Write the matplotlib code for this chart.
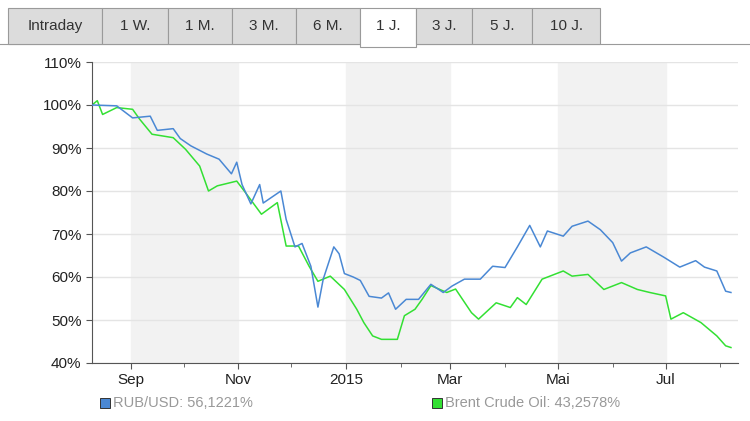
import matplotlib
matplotlib.use("Agg")
import matplotlib.pyplot as plt
import matplotlib.dates as mdates
from matplotlib.patches import Rectangle
import datetime as dt

plt.rcParams['font.family'] = ['Liberation Sans', 'DejaVu Sans']

base = dt.date(2014, 8, 10)
rub_days = [0,14,23,33,37,46,50,56,65,72,79,82,85,90,95,97,107,110,115,119,124,128,131,137,140,143,148,152,157,164,168,172,178,185,192,199,204,211,220,227,234,241,248,254,258,267,272,281,288,295,300,305,314,324,333,342,347,354,359,362]
rub_vals = [100,99.8,97,97.4,94.1,94.5,92.2,90.5,88.6,87.4,84,86.7,81.5,77,81.5,77.2,80,73.4,67,67.8,62.5,53,59.5,67,65.4,60.8,60,59.2,55.5,55.1,56.3,52.5,54.8,54.8,58.3,56.4,57.9,59.5,59.5,62.5,62.2,67,72,67,70.7,69.5,71.8,73,71,68,63.7,65.6,67,64.6,62.3,63.8,62.3,61.4,56.7,56.4]
oil_days = [0,3,6,14,23,27,34,46,53,61,66,71,82,87,96,105,110,117,123,128,135,143,150,154,159,164,173,177,183,187,192,201,206,215,219,229,237,241,246,255,267,272,281,290,300,309,316,325,328,335,345,354,359,362]
oil_vals = [100,101,97.8,99.4,99,96.7,93.2,92.4,89.7,85.8,80,81.2,82.3,79.6,74.6,77.3,67.2,67.2,62.5,59,60.2,57.1,52.5,49.4,46.3,45.5,45.5,51,52.5,54.8,58,56.4,57.2,51.7,50.2,54,52.9,55.2,53.6,59.5,61.4,60.2,60.6,57.1,58.7,57.1,56.4,55.6,50.2,51.7,49.4,46.3,44,43.6]
tabs = ["Intraday","1 W.","1 M.","3 M.","6 M.","1 J.","3 J.","5 J.","10 J."]
tab_edges = [8,102,168,232,296,360,416,472,532,600]
month_ticks = ["Sep","Nov","2015","Mar","Mai","Jul"]
legend_labels = ["RUB/USD: 56,1221%", "Brent Crude Oil: 43,2578%"]

W, H = 750, 421
fig = plt.figure(figsize=(7.5, 4.21), dpi=100)
fig.add_artist(plt.Line2D([0, 750/W], [(421-44)/H]*2, color="#9a9a9a", lw=0.8))
for i, t in enumerate(tabs):
    x0, x1 = tab_edges[i], tab_edges[i+1]
    active = (t == "1 J.")
    fc = "white" if active else "#dcdcdc"
    y0 = 421-47 if active else 421-44
    fig.patches.append(Rectangle((x0/W, y0/H), (x1-x0)/W, (39 if active else 36)/H,
                                 transform=fig.transFigure, fc=fc, ec="#9a9a9a", lw=0.8, zorder=2))
    fig.text((x0+x1)/2/W, (421-26)/H, t, ha="center", va="center", fontsize=11, color="#333333")

ax = fig.add_axes([92/W, 1-363/H, (738-92)/W, (363-62)/H])
d = lambda ds: [mdates.date2num(base + dt.timedelta(days=k)) for k in ds]
for a, b in [((2014,9,1),(2014,11,1)), ((2015,1,1),(2015,3,1)), ((2015,5,1),(2015,7,1))]:
    ax.axvspan(mdates.date2num(dt.date(*a)), mdates.date2num(dt.date(*b)), color="#f2f2f2", zorder=0)
ax.plot(d(rub_days), rub_vals, color="#4a88d4", lw=1.1, zorder=3)
ax.plot(d(oil_days), oil_vals, color="#33e033", lw=1.1, zorder=2)
ax.set_ylim(40, 110)
ax.set_xlim(mdates.date2num(base), mdates.date2num(dt.date(2015, 8, 11)))
ax.set_yticks(range(40, 111, 10))
ax.set_yticklabels([f"{v}%" for v in range(40, 111, 10)])
major = [dt.date(2014,9,1), dt.date(2014,11,1), dt.date(2015,1,1), dt.date(2015,3,1), dt.date(2015,5,1), dt.date(2015,7,1)]
minor = [dt.date(2014,10,1), dt.date(2014,12,1), dt.date(2015,2,1), dt.date(2015,4,1), dt.date(2015,6,1), dt.date(2015,8,1)]
ax.set_xticks([mdates.date2num(x) for x in major])
ax.set_xticklabels(month_ticks)
ax.set_xticks([mdates.date2num(x) for x in minor], minor=True)
ax.grid(axis="y", color="#e4e4e4", lw=1)
ax.set_axisbelow(True)
for s in ["top", "right"]:
    ax.spines[s].set_visible(False)
for s in ["left", "bottom"]:
    ax.spines[s].set_color("#555555")
ax.tick_params(axis="both", labelsize=11, colors="#555555", labelcolor="#222222", length=4)
ax.tick_params(axis="x", which="minor", length=3, colors="#555555")
for x, col, lab in [(100, "#4a88d4", legend_labels[0]), (432, "#33e033", legend_labels[1])]:
    fig.patches.append(Rectangle((x/W, (421-408)/H), 10/W, 10/H, transform=fig.transFigure,
                                 fc=col, ec="#333333", lw=0.7))
    fig.text((x+13)/W, (421-403)/H, lab, ha="left", va="center", fontsize=10.5, color="#999999")
fig.savefig("out.png", dpi=100)
